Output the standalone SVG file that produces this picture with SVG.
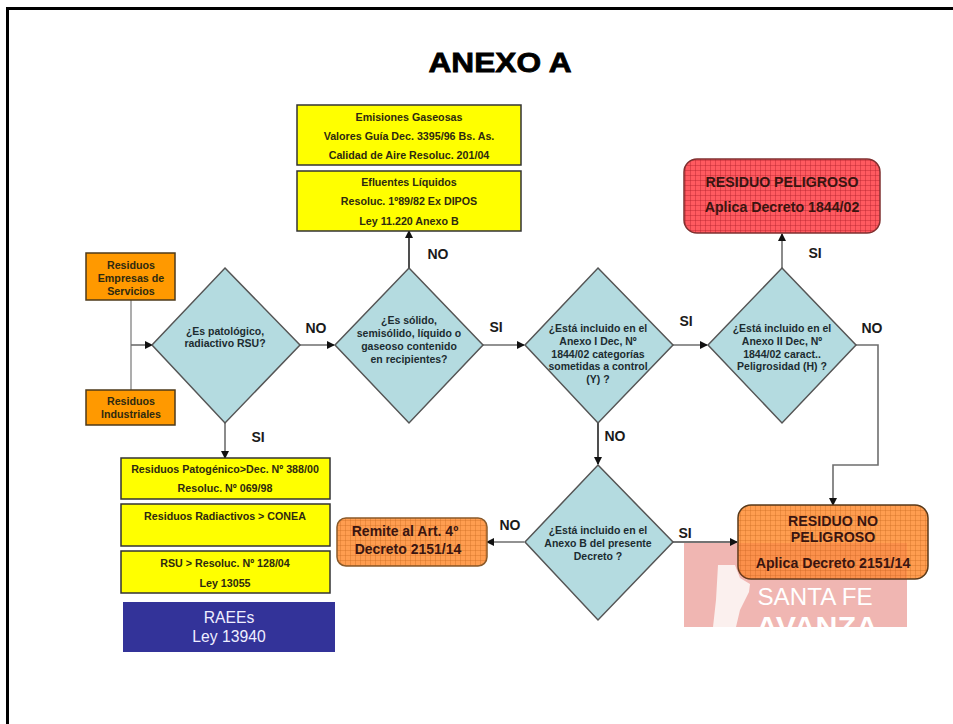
<svg xmlns="http://www.w3.org/2000/svg" width="953" height="724" viewBox="0 0 953 724">
<style>
text{font-family:"Liberation Sans",Arial,sans-serif;font-weight:bold;text-anchor:middle;fill:#1a1a1a}
.o{fill:#ff9900;stroke:#4d3a1a;stroke-width:1.5}
.y{fill:#ffff00;stroke:#333;stroke-width:1.5}
.d{fill:#b4dbe0;stroke:#555;stroke-width:1.5}
.c{fill:none;stroke:#6e6e6e;stroke-width:1.6}
.s{font-size:10.7px;fill:#2e2a10}
.q{font-size:10.5px;fill:#1c2c30}
.b{font-size:14.2px;fill:#3a1510}
.l{font-size:14px}
</style>
<defs>
<marker id="a" markerWidth="8" markerHeight="8" refX="7" refY="4" orient="auto" markerUnits="userSpaceOnUse"><path d="M0 0L8 4L0 8Z" fill="#111"/></marker>
<pattern id="gr" width="5" height="5" patternUnits="userSpaceOnUse"><rect width="5" height="5" fill="#ff5a60"/><path d="M0 0H5M0 0V5" stroke="#b3202a" stroke-width=".8"/></pattern>
<pattern id="go" width="5" height="5" patternUnits="userSpaceOnUse"><rect width="5" height="5" fill="#ff9d50"/><path d="M0 0H5M0 0V5" stroke="#c96a20" stroke-width=".7"/></pattern>
<clipPath id="lc"><rect x="684" y="543" width="223" height="84"/></clipPath>
</defs>
<rect width="953" height="724" fill="#fff"/>
<path d="M7.5 724V8.5H953" fill="none" stroke="#000" stroke-width="3"/>
<text x="500" y="72" font-size="28" textLength="143" lengthAdjust="spacingAndGlyphs" style="fill:#000;stroke:#000;stroke-width:.8">ANEXO A</text>
<g id="logo">
<rect x="684" y="543" width="223" height="84" fill="#f0b6b2"/>
<path d="M718 565L735 565L740 578L750 584L749 592L740 610L736 627L713 627L716 600Z" fill="#fbf0ee"/>
<text x="815" y="605" font-size="24" textLength="115" lengthAdjust="spacingAndGlyphs" style="fill:#fff;font-weight:normal">SANTA FE</text>
<g clip-path="url(#lc)"><text x="817" y="636" font-size="27" textLength="122" lengthAdjust="spacingAndGlyphs" style="fill:#fff">AVANZA</text></g>
</g>
<g id="connectors">
<path class="c" d="M131 300V390" style="stroke:#999"/>
<path class="c" d="M131 345H152" marker-end="url(#a)"/>
<path class="c" d="M300 345H334" marker-end="url(#a)"/>
<path class="c" d="M225 423V458" marker-end="url(#a)"/>
<path class="c" d="M409 268V231" marker-end="url(#a)" style="stroke:#222"/>
<path class="c" d="M483 345H524" marker-end="url(#a)"/>
<path class="c" d="M673 345H707" marker-end="url(#a)"/>
<path class="c" d="M782 268V234" marker-end="url(#a)"/>
<path class="c" d="M856 345H878V465H833V505" marker-end="url(#a)"/>
<path class="c" d="M598 423V464" marker-end="url(#a)" style="stroke:#222"/>
<path class="c" d="M524 542H487" marker-end="url(#a)"/>
<path class="c" d="M673 542H737" marker-end="url(#a)" style="stroke:#444"/>
</g>
<g id="labels">
<text class="l" x="316" y="333">NO</text>
<text class="l" x="258" y="442">SI</text>
<text class="l" x="438" y="259">NO</text>
<text class="l" x="496" y="332">SI</text>
<text class="l" x="686" y="326">SI</text>
<text class="l" x="872" y="333">NO</text>
<text class="l" x="815" y="258">SI</text>
<text class="l" x="615" y="441">NO</text>
<text class="l" x="510" y="530">NO</text>
<text class="l" x="685" y="538">SI</text>
</g>
<g id="n-empresas"><rect class="o" x="86" y="253" width="89" height="47"/><text class="s" x="131" y="269">Residuos</text><text class="s" x="131" y="282">Empresas de</text><text class="s" x="131" y="295">Servicios</text></g>
<g id="n-industriales"><rect class="o" x="86" y="390" width="89" height="35"/><text class="s" x="131" y="405">Residuos</text><text class="s" x="131" y="418">Industriales</text></g>
<g id="d-patologico"><path class="d" d="M225 268L300 345L225 423L152 345Z"/><text class="q" x="225" y="335">¿Es patológico,</text><text class="q" x="225" y="347">radiactivo RSU?</text></g>
<g id="d-solido"><path class="d" d="M409 268L483 345L409 423L335 345Z"/><text class="q" x="409" y="324">¿Es sólido,</text><text class="q" x="409" y="337">semisólido, líquido o</text><text class="q" x="409" y="350">gaseoso contenido</text><text class="q" x="409" y="363">en recipientes?</text></g>
<g id="d-anexo1"><path class="d" d="M598 268L673 345L598 423L525 345Z"/><text class="q" x="598" y="332">¿Está incluido en el</text><text class="q" x="598" y="345">Anexo I Dec, Nº</text><text class="q" x="598" y="358">1844/02 categorías</text><text class="q" x="598" y="370">sometidas a control</text><text class="q" x="598" y="383">(Y) ?</text></g>
<g id="d-anexo2"><path class="d" d="M782 268L856 345L782 423L708 345Z"/><text class="q" x="782" y="332">¿Está incluido en el</text><text class="q" x="782" y="345">Anexo II Dec, Nº</text><text class="q" x="782" y="358">1844/02 caract..</text><text class="q" x="782" y="370">Peligrosidad (H) ?</text></g>
<g id="d-anexob"><path class="d" d="M598 465L673 542L598 620L525 542Z"/><text class="q" x="598" y="534">¿Está incluido en el</text><text class="q" x="598" y="547">Anexo B del presente</text><text class="q" x="598" y="560">Decreto ?</text></g>
<g id="n-emisiones"><rect class="y" x="297" y="105" width="224" height="60"/><text class="s" x="409" y="121">Emisiones Gaseosas</text><text class="s" x="409" y="140">Valores Guía Dec. 3395/96 Bs. As.</text><text class="s" x="409" y="159">Calidad de Aire Resoluc. 201/04</text></g>
<g id="n-efluentes"><rect class="y" x="297" y="171" width="224" height="60"/><text class="s" x="409" y="186">Efluentes Líquidos</text><text class="s" x="409" y="205">Resoluc. 1º89/82 Ex DIPOS</text><text class="s" x="409" y="225">Ley 11.220 Anexo B</text></g>
<g id="n-patogenico"><rect class="y" x="121" y="458" width="209" height="41"/><text class="s" x="225" y="473">Residuos Patogénico&gt;Dec. Nº 388/00</text><text class="s" x="225" y="492">Resoluc. Nº 069/98</text></g>
<g id="n-radiactivos"><rect class="y" x="121" y="504" width="209" height="42"/><text class="s" x="225" y="520">Residuos Radiactivos &gt; CONEA</text></g>
<g id="n-rsu"><rect class="y" x="121" y="551" width="209" height="42"/><text class="s" x="225" y="567">RSU &gt; Resoluc. Nº 128/04</text><text class="s" x="225" y="587">Ley 13055</text></g>
<g id="n-raees"><rect x="123" y="602" width="212" height="50" fill="#333399"/><text x="229" y="623" font-size="15.7" style="fill:#eef;font-weight:normal">RAEEs</text><text x="229" y="642" font-size="15.7" style="fill:#eef;font-weight:normal">Ley 13940</text></g>
<g id="n-peligroso"><rect x="684" y="159" width="196" height="74" rx="13" fill="url(#gr)" stroke="#803030" stroke-width="1.5"/><text class="b" x="782" y="187">RESIDUO PELIGROSO</text><text class="b" x="782" y="212">Aplica Decreto 1844/02</text></g>
<g id="n-nopeligroso"><rect x="738" y="505" width="190" height="74" rx="13" fill="url(#go)" stroke="#5a3a1a" stroke-width="1.5"/><path d="M738 543H907V579H751Q738 579 738 566Z" fill="#e04a30" opacity=".14"/><text class="b" x="833" y="526">RESIDUO NO</text><text class="b" x="833" y="542">PELIGROSO</text><text class="b" x="833" y="568">Aplica Decreto 2151/14</text></g>
<g id="n-remite"><rect x="337" y="518" width="150" height="48" rx="9" fill="url(#go)" stroke="#8a5a2a" stroke-width="1.5"/><text class="b" x="405" y="536" style="font-size:14px">Remite al Art. 4º</text><text class="b" x="408" y="554" style="font-size:14px">Decreto 2151/14</text></g>
</svg>
